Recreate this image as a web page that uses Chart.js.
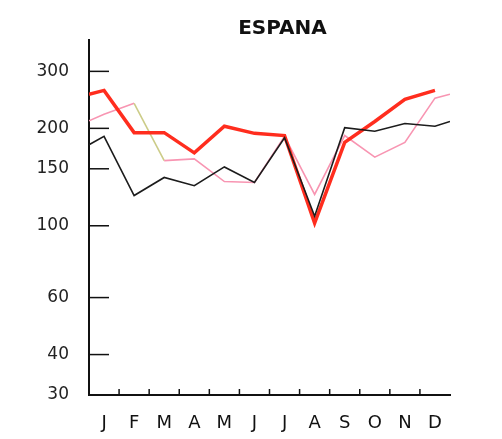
<!DOCTYPE html>
<html>
<head>
<meta charset="utf-8">
<script src="https://cdn.jsdelivr.net/npm/chart.js@4"></script>
<style>
  html, body { margin: 0; padding: 0; background: #fff; }
  #wrap { width: 502px; height: 439px; }
</style>
</head>
<body>
<div id="wrap"><canvas id="myChart"></canvas></div>
<script>
// months and values (log scale)
const months = ['J', 'F', 'M', 'A', 'M', 'J', 'J', 'A', 'S', 'O', 'N', 'D'];
const yTicks = [30, 40, 60, 100, 150, 200, 300];

// each line also runs out to the axis edges (value at left edge, value at right edge)
const blackVals = [189, 124, 141, 133, 152, 136, 187, 107, 201, 196, 207, 203];
const blackEdges = [178, 210];
const redVals = [262, 194, 194, 168, 203, 193, 190, 102, 181, 210, 246, 262];
const redEdges = [255, null];
const pinkVals = [221, 239, 159, 161, 137, 136, 189, 125, 190, 163, 181, 248];
const pinkEdges = [211, 255];

function toPoints(vals, edges) {
  const pts = [];
  if (edges[0] != null) pts.push({ x: 0, y: edges[0] });
  vals.forEach((v, i) => pts.push({ x: i + 0.5, y: v }));
  if (edges[1] != null) pts.push({ x: 12, y: edges[1] });
  return pts;
}

// inward tick marks + title
const extras = {
  id: 'extras',
  afterDraw(chart) {
    const { ctx, chartArea, scales } = chart;
    ctx.save();
    ctx.strokeStyle = '#111';
    ctx.lineWidth = 1.5;
    yTicks.forEach(v => {
      if (v === 30) return;
      const y = scales.y.getPixelForValue(v);
      ctx.beginPath();
      ctx.moveTo(chartArea.left, y);
      ctx.lineTo(chartArea.left + 20, y);
      ctx.stroke();
    });
    for (let i = 1; i < 12; i++) {
      const x = scales.x.getPixelForValue(i);
      ctx.beginPath();
      ctx.moveTo(x, chartArea.bottom);
      ctx.lineTo(x, chartArea.bottom - 6);
      ctx.stroke();
    }
    ctx.fillStyle = '#111';
    ctx.font = 'bold 20px "DejaVu Sans"';
    ctx.textAlign = 'center';
    ctx.textBaseline = 'alphabetic';
    ctx.fillText('ESPANA', (chartArea.left + chartArea.right) / 2 + 13, 34);
    ctx.restore();
  }
};

const ctx = document.getElementById('myChart').getContext('2d');

const myChart = new Chart(ctx, {
  type: 'line',
  data: {
    datasets: [
      {
        label: 'black',
        data: toPoints(blackVals, blackEdges),
        borderColor: '#1c1c1c',
        borderWidth: 1.6,
        order: 0
      },
      {
        label: 'red',
        data: toPoints(redVals, redEdges),
        borderColor: '#ff2d1e',
        borderWidth: 3.5,
        order: 1
      },
      {
        label: 'pink',
        data: toPoints(pinkVals, pinkEdges),
        borderColor: '#f895b2',
        borderWidth: 1.6,
        order: 2,
        segment: {
          borderColor: c => c.p0DataIndex === 2 ? '#cccc88' : undefined
        }
      }
    ]
  },
  options: {
    responsive: true,
    maintainAspectRatio: false,
    animation: false,
    layout: { padding: { left: 0, right: 52, top: 40, bottom: 0 } },
    elements: {
      point: { radius: 0 },
      line: { tension: 0, fill: false, borderJoinStyle: 'miter' }
    },
    plugins: {
      legend: { display: false },
      title: { display: false },
      tooltip: { enabled: false }
    },
    scales: {
      x: {
        type: 'linear',
        min: 0,
        max: 12,
        afterBuildTicks: s => { s.ticks = months.map((m, i) => ({ value: i + 0.5 })); },
        afterFit: s => { s.height = 44; },
        grid: { display: false, drawTicks: false },
        border: { display: true, color: '#111', width: 2 },
        ticks: {
          padding: 18,
          color: '#111',
          font: { family: 'DejaVu Sans', size: 18 },
          maxRotation: 0,
          callback: v => months[Math.floor(v)]
        }
      },
      y: {
        type: 'logarithmic',
        min: 30,
        max: 375,
        afterBuildTicks: s => { s.ticks = yTicks.map(v => ({ value: v })); },
        afterFit: s => { s.width = 89; },
        grid: { display: false, drawTicks: false },
        border: { display: true, color: '#111', width: 2 },
        ticks: {
          padding: 20,
          color: '#222',
          font: { family: 'DejaVu Sans', size: 17 },
          callback: v => String(v)
        }
      }
    }
  },
  plugins: [extras]
});
</script>
</body>
</html>
